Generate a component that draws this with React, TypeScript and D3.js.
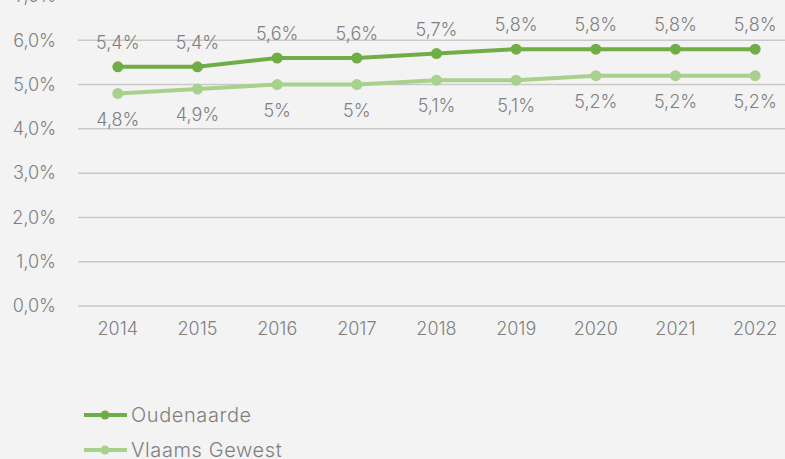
import React from "react";
import * as d3 from "d3";

const years = ["2014", "2015", "2016", "2017", "2018", "2019", "2020", "2021", "2022"];
const oudenaarde = [5.4, 5.4, 5.6, 5.6, 5.7, 5.8, 5.8, 5.8, 5.8];
const vlaams = [4.8, 4.9, 5.0, 5.0, 5.1, 5.1, 5.2, 5.2, 5.2];
const yTicks = [0, 1, 2, 3, 4, 5, 6, 7];
const seriesNames = ["Oudenaarde", "Vlaams Gewest"];
const colors = ["#70ad47", "#a9d18e"];

const W = 785;
const H = 459;
const FONT = "Inter, 'Liberation Sans', sans-serif";
const TXT = "#7f7f7f";

function fmtPct(v: number) {
  const s = Number.isInteger(v) ? String(v) : v.toFixed(1).replace(".", ",");
  return s + "%";
}

export default function App() {
  const x = d3.scaleBand<string>().domain(years).range([78, 795]);
  const y = d3.scaleLinear().domain([0, 7]).range([306, -4]);
  const cx = (d: string) => (x(d) as number) + x.bandwidth() / 2;
  const line = d3
    .line<number>()
    .x((_, i) => cx(years[i]))
    .y((v) => y(v));
  const series = [oudenaarde, vlaams];

  return (
    <svg
      width={W}
      height={H}
      style={{ position: "absolute", left: 0, top: 0, background: "#f3f3f3" }}
      fontFamily={FONT}
      fontWeight={300}
    >
      <rect width={W} height={H} fill="#f3f3f3" />
      {yTicks.map((t) => (
        <g key={t}>
          <line x1={78} x2={W} y1={y(t)} y2={y(t)} stroke="#c9c9c9" strokeWidth={1.5} />
          <text x={56} y={y(t)} dy="0.35em" textAnchor="end" fontSize={18} fill={TXT}>
            {t.toFixed(1).replace(".", ",") + "%"}
          </text>
        </g>
      ))}
      {years.map((yr) => (
        <text key={yr} x={cx(yr)} y={329} dy="0.35em" textAnchor="middle" fontSize={18} fill={TXT}>
          {yr}
        </text>
      ))}
      {series.map((s, si) => (
        <g key={si}>
          <path d={line(s) || ""} fill="none" stroke={colors[si]} strokeWidth={4} />
          {s.map((v, i) => (
            <circle key={i} cx={cx(years[i])} cy={y(v)} r={5.5} fill={colors[si]} />
          ))}
          {s.map((v, i) => (
            <text
              key={"l" + i}
              x={cx(years[i])}
              y={y(v) + (si === 0 ? -24 : 26)}
              dy="0.35em"
              textAnchor="middle"
              fontSize={18}
              fill={TXT}
            >
              {fmtPct(v)}
            </text>
          ))}
        </g>
      ))}
      {seriesNames.map((n, i) => {
        const ly = 415 + i * 35;
        return (
          <g key={n}>
            <line x1={84} x2={127} y1={ly} y2={ly} stroke={colors[i]} strokeWidth={4} />
            <circle cx={105} cy={ly} r={4.5} fill={colors[i]} />
            <text x={131} y={ly} dy="0.35em" fontSize={20} fill={TXT} letterSpacing={0.6}>
              {n}
            </text>
          </g>
        );
      })}
    </svg>
  );
}
